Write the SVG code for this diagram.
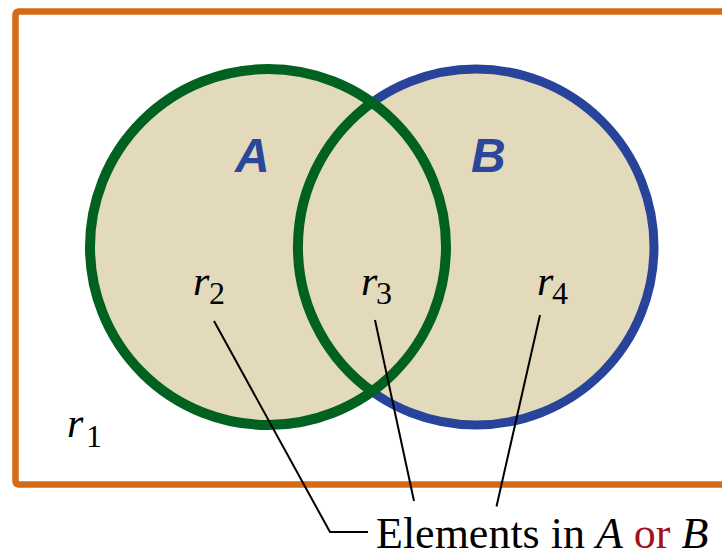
<svg xmlns="http://www.w3.org/2000/svg" width="722" height="552" viewBox="0 0 722 552">
<style>
.lbl{font-family:"Liberation Serif","Times New Roman",serif;font-style:italic;fill:#000;}
.sub{font-family:"Liberation Serif","Times New Roman",serif;font-style:normal;fill:#000;}
.set{font-family:"Liberation Sans",Arial,sans-serif;font-weight:bold;font-style:italic;font-size:48px;fill:#2a479c;}
.conn{fill:none;stroke:#000;stroke-width:2;}
</style>
<rect width="722" height="552" fill="#fff"/>
<g id="universe">
<rect x="15.5" y="11.5" width="720" height="473" rx="3" fill="#fff" stroke="#d56a17" stroke-width="6.5"/>
</g>
<g id="setB">
<circle cx="476" cy="247" r="178" fill="#e3dabb" stroke="#27449a" stroke-width="9"/>
</g>
<g id="setA">
<circle cx="268" cy="247" r="178" fill="#e3dabb" stroke="#006121" stroke-width="10"/>
<path d="M372,102.5 A178,178 0 0 0 372,391.5" fill="none" stroke="#006121" stroke-width="10"/>
</g>
<g id="labelA"><text class="set" x="235" y="171.5">A</text></g>
<g id="labelB"><text class="set" x="471" y="171.5">B</text></g>
<g id="r1"><text class="lbl" x="67" y="437" font-size="42">r</text><text class="sub" font-size="32" x="86" y="447">1</text></g>
<g id="r2"><text class="lbl" x="193" y="295" font-size="42">r</text><text class="sub" font-size="32" x="209" y="304">2</text></g>
<g id="r3"><text class="lbl" x="361" y="295" font-size="42">r</text><text class="sub" font-size="32" x="376" y="304">3</text></g>
<g id="r4"><text class="lbl" x="537" y="295" font-size="42">r</text><text class="sub" font-size="32" x="552" y="304">4</text></g>
<g id="connectors">
<polyline class="conn" points="214,321 330,532 368,532"/>
<line class="conn" x1="375" y1="320" x2="414" y2="501"/>
<line class="conn" x1="540" y1="315" x2="496.5" y2="506.5"/>
</g>
<g id="caption">
<text x="376" y="548" font-family="'Liberation Serif','Times New Roman',serif" font-size="44" fill="#000">Elements in <tspan font-style="italic">A</tspan> <tspan fill="#a3121c">or</tspan> <tspan font-style="italic">B</tspan></text>
</g>
</svg>
